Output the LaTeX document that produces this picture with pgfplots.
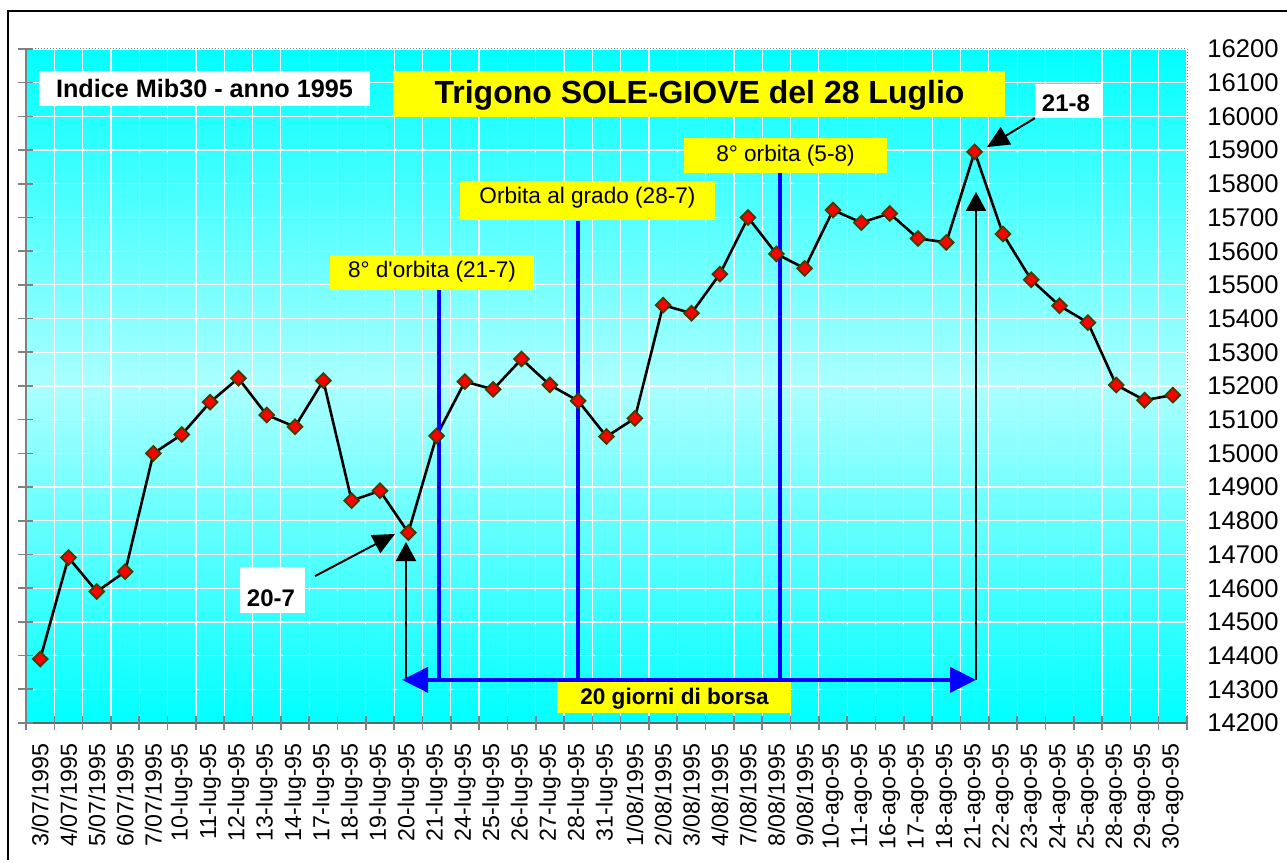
\documentclass[border=0pt]{standalone}
\usepackage{pgfplots}
\pgfplotsset{compat=1.18}
\usepackage{pgfplotstable}
\usepackage{fontspec}
\setmainfont{Liberation Sans}[Ligatures=TeXOff]
\usetikzlibrary{arrows.meta}
\definecolor{mkborder}{RGB}{70,60,0}
\definecolor{lightcy}{RGB}{171,255,255}
\definecolor{ycol}{RGB}{255,255,0}

\pgfplotstableread{
i v
0 14390
1 14691
2 14590
3 14649
4 15000
5 15056
6 15152
7 15223
8 15114
9 15079
10 15216
11 14860
12 14889
13 14765
14 15052
15 15213
16 15190
17 15280
18 15203
19 15156
20 15050
21 15104
22 15440
23 15416
24 15532
25 15700
26 15592
27 15549
28 15722
29 15685
30 15712
31 15638
32 15626
33 15895
34 15651
35 15515
36 15438
37 15388
38 15203
39 15158
40 15173
}\mibdata

\begin{document}
\begin{tikzpicture}
\useasboundingbox (0pt,0pt) rectangle (643.5pt,431.5pt);
\begin{axis}[
  at={(13pt,70pt)}, anchor=south west,
  scale only axis, width=580.5pt, height=337pt,
  xmin=-0.5, xmax=40.5, ymin=14200, ymax=16200,
  clip=false,
  axis background/.style={top color=cyan, bottom color=cyan, middle color=lightcy},
  axis line style={draw=none},
  tick style={draw=none},
  xtick={0,...,40},
  xticklabels={3/07/1995,4/07/1995,5/07/1995,6/07/1995,7/07/1995,10-lug-95,11-lug-95,12-lug-95,13-lug-95,14-lug-95,17-lug-95,18-lug-95,19-lug-95,20-lug-95,21-lug-95,24-lug-95,25-lug-95,26-lug-95,27-lug-95,28-lug-95,31-lug-95,1/08/1995,2/08/1995,3/08/1995,4/08/1995,7/08/1995,8/08/1995,9/08/1995,10-ago-95,11-ago-95,16-ago-95,17-ago-95,18-ago-95,21-ago-95,22-ago-95,23-ago-95,24-ago-95,25-ago-95,28-ago-95,29-ago-95,30-ago-95},
  minor xtick={-0.5,0.5,...,40.5},
  xmajorgrids=false, xminorgrids=true, ymajorgrids=true,
  ytick={14200,14300,...,16200},
  yticklabel pos=right,
  scaled y ticks=false,
  /pgf/number format/assume math mode=true,
  /pgf/number format/1000 sep={},
  yticklabel style={font=\fontsize{12.8}{14}\selectfont, anchor=west, inner xsep=0pt, xshift=10pt},
  xticklabel style={font=\fontsize{11.6}{13}\selectfont, rotate=90, anchor=east, inner xsep=10pt, inner ysep=0pt},
  major grid style={white, line width=0.6pt},
  minor grid style={white, line width=0.6pt},
]
\addplot[black, line width=1.3pt, mark=square*, mark size=2.6pt,
  mark options={rotate=45, fill=red, draw=mkborder, line width=0.9pt, solid}]
  table[x=i, y=v] {\mibdata};

\draw[blue, line width=2pt] (axis cs:14.07,14328) -- (axis cs:14.07,15485);
\draw[blue, line width=2pt] (axis cs:19.0,14328) -- (axis cs:19.0,15690);
\draw[blue, line width=2pt] (axis cs:26.14,14328) -- (axis cs:26.14,15832);
\draw[black, line width=1pt, -{Triangle[length=9.5pt,width=10pt]}] (axis cs:12.92,14328) -- (axis cs:12.92,14737);
\draw[black, line width=1pt, -{Triangle[length=9.5pt,width=10pt]}] (axis cs:33.05,14328) -- (axis cs:33.05,15776);
\draw[blue, line width=2pt, {Triangle[length=13pt,width=12.5pt]}-{Triangle[length=13pt,width=12.5pt]}] (axis cs:12.78,14328) -- (axis cs:33.05,14328);
\draw[black, line width=1pt, -{Triangle[length=11pt,width=10pt]}] (axis cs:9.71,14636) -- (axis cs:12.53,14761);
\draw[black, line width=1pt, -{Triangle[length=11pt,width=10pt]}] (axis cs:35.13,15995) -- (axis cs:33.44,15909);
\end{axis}

\begin{scope}[x=0.5pt, y=-0.5pt, shift={(0pt,431.5pt)}]
  % outer frame
  \draw[black, line width=0.7pt] (8,860) -- (8,11) -- (1295,11);
  % plot frame
  \draw[gray, densely dotted, line width=0.5pt] (26,49) -- (1187,49) -- (1187,723);
  \draw[black!60, line width=0.6pt] (26,723) -- (1187,723);
  \draw[gray, line width=1pt] (26,49) -- (26,723);
  \foreach \k in {0,...,20} \draw[gray, line width=0.8pt] (18,{723-33.7*\k}) -- (33,{723-33.7*\k});
  \foreach \k in {0,...,41} \draw[gray, line width=0.8pt] ({26+28.317*\k},716) -- ({26+28.317*\k},730);
  % boxes
  \fill[white] (39,71) rectangle (370,106);
  \node[anchor=base, inner sep=0pt, font=\fontsize{12.6}{15}\selectfont\bfseries] at (204.5,98) {Indice Mib30 - anno 1995};
  \fill[ycol] (393,71) rectangle (1005,117);
  \node[anchor=base, inner sep=0pt, font=\fontsize{16}{19}\selectfont\bfseries] at (699.5,104) {Trigono SOLE-GIOVE del 28 Luglio};
  \fill[ycol] (330,255) rectangle (534,290);
  \node[anchor=base, inner sep=0pt, font=\fontsize{11.3}{13}\selectfont] at (432,278) {8° d'orbita (21-7)};
  \fill[ycol] (460,181) rectangle (715,220);
  \node[anchor=base, inner sep=0pt, font=\fontsize{11.3}{13}\selectfont] at (587.5,204) {Orbita al grado (28-7)};
  \fill[ycol] (684,138) rectangle (887,173);
  \node[anchor=base, inner sep=0pt, font=\fontsize{11.3}{13}\selectfont] at (785.5,162) {8° orbita (5-8)};
  \fill[white] (1035,84) rectangle (1101,118);
  \node[anchor=base, inner sep=0pt, font=\fontsize{12}{14}\selectfont\bfseries] at (1066,111.5) {21-8};
  \fill[white] (240,567) rectangle (305,613);
  \node[anchor=base, inner sep=0pt, font=\fontsize{12}{14}\selectfont\bfseries] at (271,606.5) {20-7};
  \fill[ycol] (557,682) rectangle (791,713);
  \node[anchor=base, inner sep=0pt, font=\fontsize{11.3}{13}\selectfont\bfseries] at (674.5,705) {20 giorni di borsa};
\end{scope}
\end{tikzpicture}
\end{document}
